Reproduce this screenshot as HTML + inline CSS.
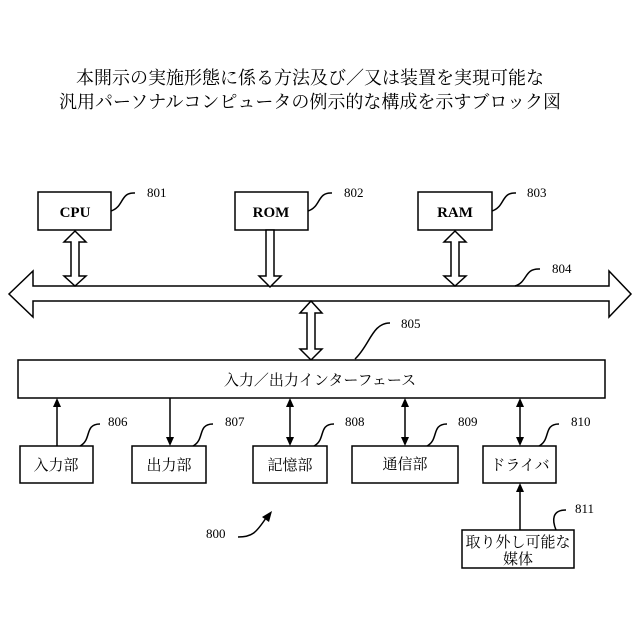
<!DOCTYPE html>
<html><head><meta charset="utf-8"><style>
body{margin:0;background:#fff;}
svg{display:block}
text{font-family:"Liberation Serif","Noto Serif CJK SC",serif;fill:#000}
.j{font-size:15px}
.n{font-size:13px}
</style></head><body>
<svg width="640" height="640" viewBox="0 0 640 640" xmlns="http://www.w3.org/2000/svg">
<text x="310" y="84" font-size="18" text-anchor="middle">本開示の実施形態に係る方法及び／又は装置を実現可能な</text>
<text x="310" y="108" font-size="18" text-anchor="middle">汎用パーソナルコンピュータの例示的な構成を示すブロック図</text>
<g fill="#fff" stroke="#000" stroke-width="1.5">
<rect x="38" y="192" width="73" height="38"/>
<rect x="235" y="192" width="73" height="38"/>
<rect x="418" y="192" width="74" height="38"/>
<!-- bus -->
<polygon points="9,294 33,271 33,286 609,286 609,271 631,294 609,317 609,301 33,301 33,317"/>
<!-- CPU arrow -->
<polygon points="75,231 86,242 79,242 79,276 86,276 75,286 64,276 71,276 71,242 64,242"/>
<!-- ROM arrow -->
<polygon points="266,230 274,230 274,276 281,276 270,287 259,276 266,276"/>
<!-- RAM arrow -->
<polygon points="455,231 466,242 459,242 459,276 466,276 455,286 444,276 451,276 451,242 444,242"/>
<!-- 805 arrow -->
<polygon points="311,301 322,313 315,313 315,349 322,349 311,360 300,349 307,349 307,313 300,313"/>
<rect x="18" y="360" width="587" height="38"/>
<rect x="20" y="446" width="73" height="37"/>
<rect x="132" y="446" width="74" height="37"/>
<rect x="253" y="446" width="74" height="37"/>
<rect x="352" y="446" width="106" height="37"/>
<rect x="483" y="446" width="73" height="37"/>
<rect x="462" y="530" width="112" height="38"/>
</g>
<g font-weight="bold" font-size="15" text-anchor="middle">
<text x="75" y="217">CPU</text><text x="271" y="217">ROM</text><text x="455" y="217">RAM</text>
</g>
<g class="j" text-anchor="middle">
<text x="320" y="385">入力／出力インターフェース</text>
<text x="56" y="470">入力部</text>
<text x="169" y="470">出力部</text>
<text x="290" y="470">記憶部</text>
<text x="405" y="469">通信部</text>
<text x="520" y="470">ドライバ</text>
<text x="518" y="547">取り外し可能な</text>
<text x="518" y="564">媒体</text>
</g>
<g stroke="#000" stroke-width="1.5" fill="none">
<path d="M57,446 V404"/><path d="M170,398 V440"/>
<path d="M290,404 V440"/><path d="M405,404 V440"/><path d="M520,404 V440"/>
<path d="M520,530 V489"/>
<!-- leaders -->
<path d="M111,211 C124,207 120,192 135,193"/>
<path d="M308,211 C321,207 317,192 332,193"/>
<path d="M492,211 C505,207 501,192 516,193"/>
<path d="M515,286 C528,282 524,268 540,269"/>
<path d="M355,359 C370,345 372,323 390,323"/>
<path d="M80,446 C92,440 84,424 100,424"/>
<path d="M193,446 C205,440 197,424 213,424"/>
<path d="M314,446 C326,440 318,424 334,424"/>
<path d="M427,446 C439,440 431,424 447,424"/>
<path d="M539,446 C551,440 543,424 559,424"/>
<path d="M556,530 C552,520 552,510 566,510"/>
<path d="M238,537 C252,537 256,533 266,518"/>
</g>
<g fill="#000">
<polygon points="57,398 53,407 61,407"/>
<polygon points="170,446 166,437 174,437"/>
<polygon points="290,398 286,407 294,407"/><polygon points="290,446 286,437 294,437"/>
<polygon points="405,398 401,407 409,407"/><polygon points="405,446 401,437 409,437"/>
<polygon points="520,398 516,407 524,407"/><polygon points="520,446 516,437 524,437"/>
<polygon points="520,483 516,492 524,492"/>
<polygon points="272,511 262,517 269,522"/>
</g>
<g class="n">
<text x="147" y="197">801</text><text x="344" y="197">802</text><text x="527" y="197">803</text>
<text x="552" y="273">804</text><text x="401" y="328">805</text>
<text x="108" y="426">806</text><text x="225" y="426">807</text><text x="345" y="426">808</text>
<text x="458" y="426">809</text><text x="571" y="426">810</text><text x="575" y="513">811</text>
<text x="206" y="538">800</text>
</g>
</svg>
</body></html>
